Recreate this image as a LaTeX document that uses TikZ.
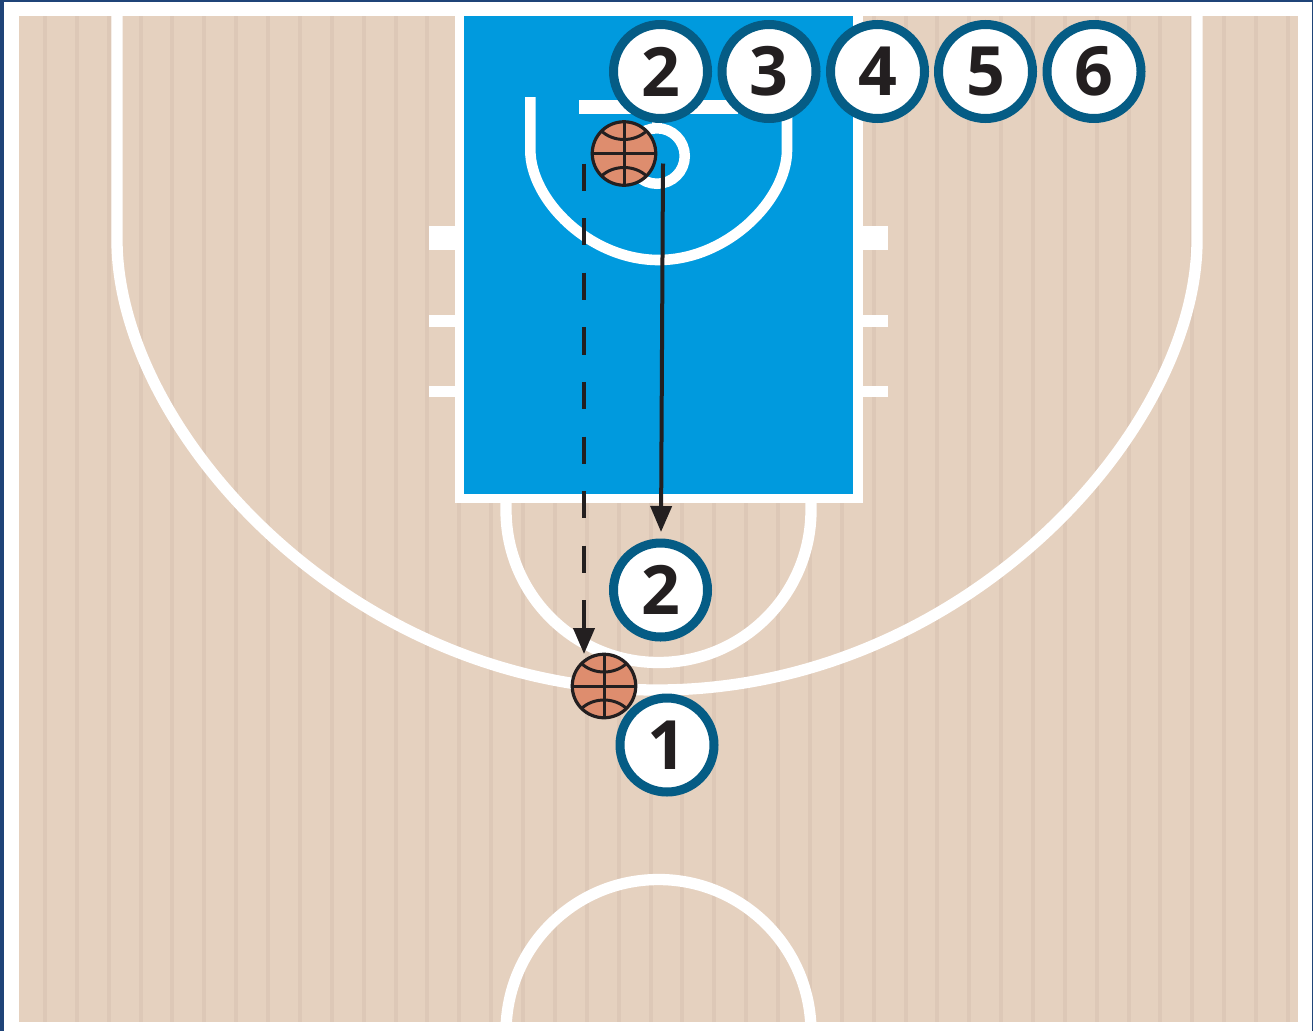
\documentclass[tikz,border=0pt]{standalone}
\usepackage{fontspec}
\newfontfamily\numfont{Open Sans}
\usetikzlibrary{arrows.meta,calc}
\definecolor{edgeblue}{HTML}{1F4478}
\definecolor{wood}{HTML}{E5D1BF}
\definecolor{woodstripe}{HTML}{DDC8B7}
\definecolor{paintblue}{HTML}{009ADE}
\definecolor{ringblue}{HTML}{055C85}
\definecolor{inkblack}{HTML}{231F20}
\definecolor{ballfill}{HTML}{DE8D6E}
\tikzset{
  courtline/.style={draw=white,line width=11.3pt},
  hashmark/.style={fill=white,draw=none},
  player/.style={circle,draw=ringblue,fill=white,line width=9pt,minimum size=94pt,inner sep=0pt,
    text=inkblack,font=\numfont\bfseries\fontsize{68}{68}\selectfont},
  ballbody/.style={circle,draw=inkblack,fill=ballfill,line width=3.2pt,minimum size=63.5pt,inner sep=0pt},
  ballseam/.style={draw=inkblack,line width=3pt},
  movearrow/.style={draw=inkblack,line width=4pt,-{Triangle[length=26pt,width=21pt]}},
  passarrow/.style={movearrow,dash pattern=on 27.3pt off 27.3pt}
}
\newcommand{\ballseams}[1]{%
  \draw[ballseam] (#1.west) -- (#1.east);
  \draw[ballseam] (#1.north) -- (#1.south);
  \draw[ballseam] ($(#1)+(-23,-23)$) .. controls ($(#1)+(-11,-11)$) and ($(#1)+(11,-11)$) .. ($(#1)+(23,-23)$);
  \draw[ballseam] ($(#1)+(-23,23)$) .. controls ($(#1)+(-11,11)$) and ($(#1)+(11,11)$) .. ($(#1)+(23,23)$);
}
\begin{document}
\begin{tikzpicture}[x=1pt,y=-1pt]
\useasboundingbox (0,0) rectangle (1313,1031);
% frame
\fill[edgeblue] (0,0) rectangle (1313,1031);
\fill[white] (4,2) rectangle (1312,1031);
\fill[wood] (19,16) rectangle (1298,1022);
% floor stripes
\foreach \k in {0,...,39} {
  \fill[woodstripe] ({43+31.87*\k},16) rectangle ({47+31.87*\k},1022);
}
% court lines clipped to floor
\begin{scope}
\clip (19,16) rectangle (1298,1022);
\draw[courtline] (117,10) -- (117,240) .. controls (117,430) and (350,690) .. (657,690)
  .. controls (964,690) and (1197,430) .. (1197,240) -- (1197,10);
\draw[courtline] (506,500) -- (506,510) arc[start angle=180,end angle=0,x radius=152.5,y radius=152.5] -- (811,500);
\draw[courtline] (506,1032) arc[start angle=180,end angle=360,x radius=152.5,y radius=152.5];
\end{scope}
% hash marks
\foreach \a/\b in {225.7/250,315.3/326.5,386/397} {
  \fill[hashmark] (429,\a) rectangle (460,\b);
  \fill[hashmark] (858,\a) rectangle (888,\b);
}
% paint
\fill[white] (454.5,16) rectangle (862.5,503);
\fill[paintblue] (464,16) rectangle (853,493.5);
% basket area
\draw[courtline,line width=10.6pt] (530.3,97) -- (530.3,150) .. controls (530.3,200) and (590,260) .. (658.6,260)
  .. controls (727,260) and (787,200) .. (787,150) -- (787,97);
\fill[white] (579,100) rectangle (738,114);
\fill[white] (652,114) rectangle (662,125);
\draw[white,line width=10.5pt] (657,156) circle[radius=27.75];
% connector ends
\coordinate (soliStart) at (663,163.5);
\coordinate (soliEnd) at (661,532);
\coordinate (dashStart) at (584,163.5);
\coordinate (dashEnd) at (584,654);
\draw[passarrow] (dashStart) -- (dashEnd);
\draw[movearrow] (soliStart) -- (soliEnd);
% balls
\node[ballbody] (ballA) at (624,153.5) {};
\ballseams{ballA}
\node[ballbody] (ballB) at (604,686) {};
\ballseams{ballB}
% players
\node[player] (queueTwo) at (660.5,71.5) {2};
\node[player] (queueThree) at (769,71.5) {3};
\node[player] (queueFour) at (877.5,71.5) {4};
\node[player] (queueFive) at (985.5,71.5) {5};
\node[player] (queueSix) at (1094,71.5) {6};
\node[player] (cutter) at (660.5,590) {2};
\node[player] (handler) at (667,745) {1};
\end{tikzpicture}
\end{document}
